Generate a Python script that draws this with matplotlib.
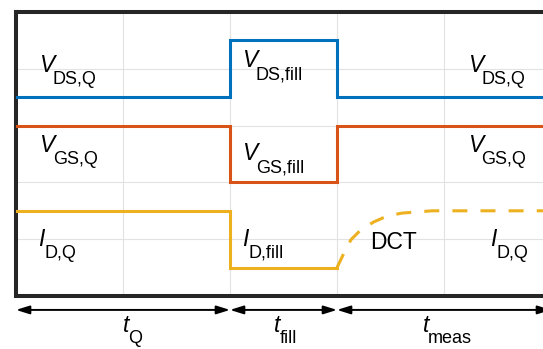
import matplotlib
matplotlib.use("Agg")
import matplotlib.pyplot as plt

plt.rcParams['font.family'] = ['Liberation Sans', 'DejaVu Sans']

# ---- data ----
t_vds = [0, 2, 3, 5]
vds = [3.5, 4.5, 3.5, 3.5]
t_vgs = [0, 2, 3, 5]
vgs = [3.0, 2.0, 3.0, 3.0]
t_id = [0, 2, 3]
id_vals = [1.5, 0.5, 0.5]
t_dct = [3.0, 3.056, 3.13, 3.22, 3.34, 3.47, 3.61, 3.75, 3.89, 4.2, 5.0]
dct = [0.5, 0.72, 0.99, 1.16, 1.30, 1.41, 1.46, 1.48, 1.50, 1.50, 1.50]
phase_edges = [0, 2, 3, 5]

# labels: (x, y, main, sub, italic)
labels = [
    (0.215, 3.94, 'V', 'DS,Q', True),
    (0.215, 2.535, 'V', 'GS,Q', True),
    (2.11, 4.03, 'V', 'DS,fill', True),
    (2.11, 2.39, 'V', 'GS,fill', True),
    (4.22, 3.94, 'V', 'DS,Q', True),
    (4.22, 2.535, 'V', 'GS,Q', True),
    (0.205, 0.88, 'I', 'D,Q', True),
    (2.11, 0.88, 'I', 'D,fill', True),
    (4.43, 0.88, 'I', 'D,Q', True),
]
dct_label = (3.31, 0.83, 'DCT')
time_labels = [(1.0, 'Q'), (2.41, 'fill'), (3.80, 'meas')]

BLUE = '#0072BD'
ORANGE = '#D95319'
YELLOW = '#EDB120'

fig = plt.figure(figsize=(5.43, 3.49), dpi=100)
ax = fig.add_axes([16/543, 53/349, 535/543, 284/349])
ax.set_xlim(0, 5)
ax.set_ylim(0, 5)
ax.set_xticks(range(6))
ax.set_yticks(range(6))
ax.tick_params(length=0, labelbottom=False, labelleft=False)
ax.grid(True, color='#e2e2e2', lw=0.8)
ax.set_axisbelow(True)
for s in ['left', 'top', 'bottom', 'right']:
    ax.spines[s].set_linewidth(2.9)
    ax.spines[s].set_color('#262626')

lw = 2.2
ax.plot(t_vds, vds, drawstyle='steps-post', color=BLUE, lw=lw, solid_joinstyle='miter', zorder=3)
ax.plot(t_vgs, vgs, drawstyle='steps-post', color=ORANGE, lw=lw, solid_joinstyle='miter', zorder=3)
ax.plot(t_id, id_vals, drawstyle='steps-post', color=YELLOW, lw=lw, solid_joinstyle='miter', zorder=3)
ax.plot(t_dct, dct, color=YELLOW, lw=lw, dashes=(4.9, 4.3), zorder=3)

fs = 16.5
sfs = 13
for x, y, main, sub, it in labels:
    ax.text(x, y, main, fontsize=fs, style='italic' if it else 'normal', ha='left', va='baseline')
    dx = 10.0 if main == 'V' else 5.0
    ax.annotate(sub, xy=(x, y), xytext=(dx, -8.6), textcoords='offset points',
                fontsize=sfs, ha='left', va='baseline')
ax.text(dct_label[0], dct_label[1], dct_label[2], fontsize=fs, ha='left', va='baseline')

for x, sub in time_labels:
    ax.text(x, -0.63, 't', fontsize=fs, style='italic', ha='left', va='baseline', clip_on=False)
    ax.annotate(sub, xy=(x, -0.63), xytext=(4.0, -8.0), textcoords='offset points',
                fontsize=sfs, ha='left', va='baseline', annotation_clip=False)

for a, b in zip(phase_edges[:-1], phase_edges[1:]):
    ax.annotate('', xy=(b, -0.049), xytext=(a, -0.049),
                xycoords=('data', 'axes fraction'), textcoords=('data', 'axes fraction'),
                arrowprops=dict(arrowstyle='<|-|>,head_length=0.8,head_width=0.25',
                                color='black', lw=1.4, shrinkA=0, shrinkB=0, mutation_scale=10),
                annotation_clip=False)

fig.savefig('out.png', dpi=100)
